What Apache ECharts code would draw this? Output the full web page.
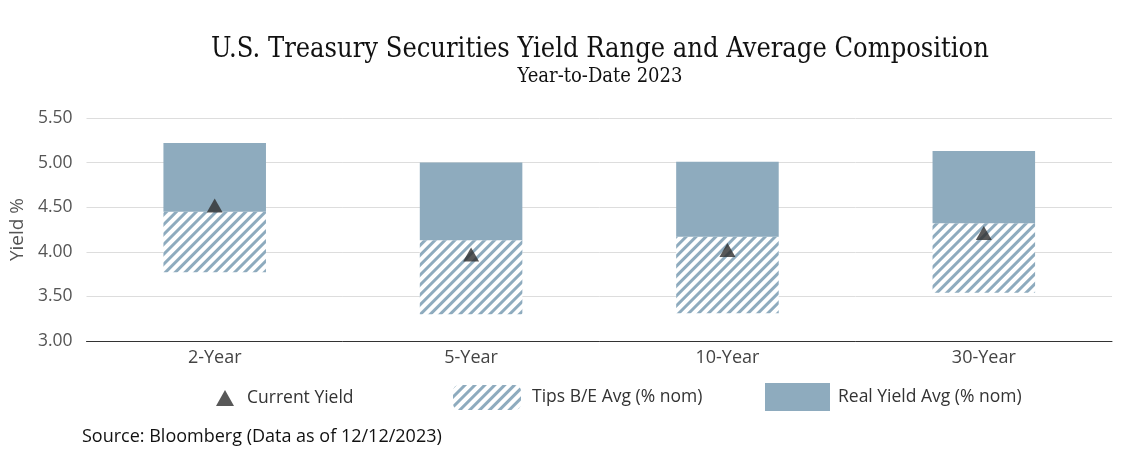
<!DOCTYPE html>
<html>
<head>
<meta charset="utf-8">
<script src="https://cdn.jsdelivr.net/npm/echarts@6/dist/echarts.min.js"></script>
<style>
html,body{margin:0;padding:0;background:#fff;}
#chart{width:1129px;height:456px;}
</style>
</head>
<body>
<div id="chart"></div>
<script>
// Data (yield %)
const categories = ['2-Year', '5-Year', '10-Year', '30-Year'];
const rangeLow = [3.77, 3.30, 3.31, 3.54];      // bottom of hatched section
const rangeMid = [4.45, 4.13, 4.17, 4.32];      // boundary between sections
const rangeHigh = [5.22, 5.00, 5.01, 5.13];     // top of solid section
const currentYield = [4.52, 3.97, 4.02, 4.21];
const yTicks = [3.00, 3.50, 4.00, 4.50, 5.00, 5.50];

const tipsBE = rangeMid.map((m, i) => +(m - rangeLow[i]).toFixed(2));
const realYield = rangeHigh.map((h, i) => +(h - rangeMid[i]).toFixed(2));

const BLUE = '#8eabbe';
const FONT = '"Open Sans", Lato, sans-serif';
const SERIF = '"DejaVu Serif Condensed", "DejaVu Serif", serif';

const chart = echarts.init(document.getElementById('chart'), null, {renderer: 'canvas'});
const hatchDecal = {
  symbol: 'rect',
  dashArrayX: [1, 0],
  dashArrayY: [3, 3.6],
  rotation: -Math.PI / 4,
  color: BLUE,
  symbolSize: 1
};
const legendText = {fontFamily: FONT, fontSize: 17.5, color: '#333'};

chart.setOption({
  animation: false,
  backgroundColor: '#fff',
  grid: {left: 86, right: 17, top: 118, bottom: 115},
  legend: [
    {
      data: ['Current Yield'], left: 211, top: 384, icon: 'triangle',
      itemWidth: 18, itemHeight: 16,
      textStyle: Object.assign({padding: [0, 0, 0, 8]}, legendText)
    },
    {
      data: ['Tips B/E Avg (% nom)'], left: 448, top: 380,
      itemWidth: 68, itemHeight: 25,
      textStyle: Object.assign({padding: [0, 0, 0, 6]}, legendText)
    },
    {
      data: ['Real Yield Avg (% nom)'], left: 760, top: 378, icon: 'rect',
      itemWidth: 65, itemHeight: 28,
      textStyle: Object.assign({padding: [0, 0, 0, 3]}, legendText)
    }
  ],
  xAxis: {
    type: 'category',
    data: categories,
    axisLine: {lineStyle: {color: '#333', width: 1}},
    axisTick: {show: false},
    axisLabel: {fontFamily: FONT, fontSize: 18, color: '#444', margin: 8}
  },
  yAxis: {
    type: 'value',
    min: yTicks[0], max: yTicks[yTicks.length - 1], interval: 0.5,
    name: 'Yield %',
    nameLocation: 'middle',
    nameGap: 58,
    nameTextStyle: {fontFamily: FONT, fontSize: 19, color: '#555'},
    axisLine: {show: false},
    axisTick: {show: false},
    splitLine: {lineStyle: {color: '#dddddd'}},
    axisLabel: {fontFamily: FONT, fontSize: 17.5, color: '#555', margin: 14,
      formatter: v => v.toFixed(2)}
  },
  series: [
    {
      name: 'base', type: 'bar', stack: 'r', barWidth: '40%',
      data: rangeLow, itemStyle: {color: 'transparent'}, silent: true
    },
    {
      name: 'Tips B/E Avg (% nom)', type: 'bar', stack: 'r', barWidth: '40%',
      data: tipsBE,
      itemStyle: {color: '#ffffff', decal: hatchDecal}
    },
    {
      name: 'Real Yield Avg (% nom)', type: 'bar', stack: 'r', barWidth: '40%',
      data: realYield,
      itemStyle: {color: BLUE}
    },
    {
      name: 'Current Yield', type: 'scatter',
      data: currentYield, symbol: 'triangle', symbolSize: [16, 14],
      itemStyle: {color: '#2e2e2e'}, z: 5
    }
  ],
  graphic: [
    {
      type: 'text', x: 600, y: 50,
      style: {text: 'U.S. Treasury Securities Yield Range and Average Composition',
        font: '27px ' + SERIF, fill: '#111', align: 'center', verticalAlign: 'middle'}
    },
    {
      type: 'text', x: 600, y: 77,
      style: {text: 'Year-to-Date 2023',
        font: '20px ' + SERIF, fill: '#111', align: 'center', verticalAlign: 'middle'}
    },
    {
      type: 'text', left: 82, top: 428,
      style: {text: 'Source: Bloomberg (Data as of 12/12/2023)', font: '18px ' + FONT, fill: '#111'}
    }
  ]
});
</script>
</body>
</html>
